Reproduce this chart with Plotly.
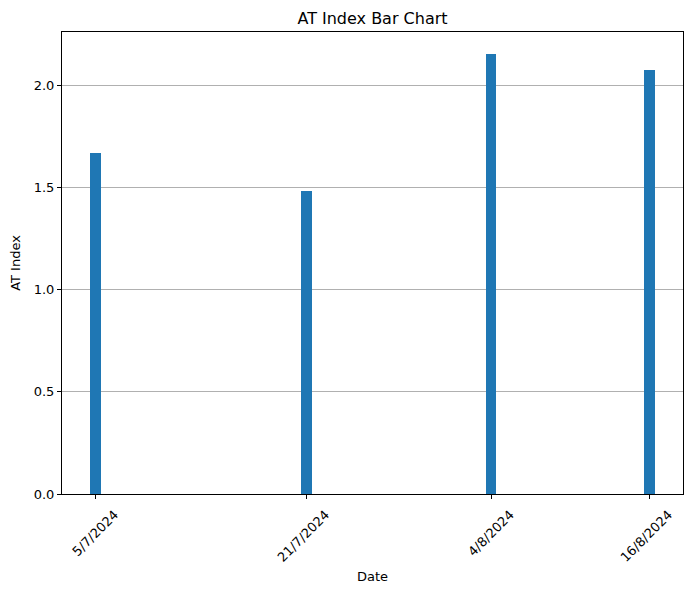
import plotly.graph_objects as go
from datetime import datetime, timedelta

dates = ["2024-07-05", "2024-07-21", "2024-08-04", "2024-08-16"]
date_labels = ["5/7/2024", "21/7/2024", "4/8/2024", "16/8/2024"]
at_index = [1.669, 1.483, 2.154, 2.075]

bar_days = 0.8
ms_day = 86400000
d0 = datetime.fromisoformat(dates[0]) - timedelta(days=bar_days / 2)
d1 = datetime.fromisoformat(dates[-1]) + timedelta(days=bar_days / 2)
span = d1 - d0
xr = [d0 - span * 0.05, d1 + span * 0.05]
ymax = max(at_index) * 1.05

fig = go.Figure(go.Bar(x=dates, y=at_index, width=bar_days * ms_day,
                       marker=dict(color="#1f77b4", line=dict(width=0))))

font = dict(family="DejaVu Sans", size=13, color="black")
fig.update_layout(
    width=691, height=593,
    margin=dict(l=62, r=8, t=32, b=99, autoexpand=False),
    paper_bgcolor="white", plot_bgcolor="white",
    font=font,
    title=dict(text="AT Index Bar Chart", x=0.5, xref="paper", y=1 - 18 / 593, yanchor="middle",
               font=dict(family="DejaVu Sans", size=16, color="black")),
    showlegend=False,
    bargap=0,
)
fig.update_xaxes(
    type="date", range=xr, tickmode="array", tickvals=dates, ticktext=date_labels,
    tickangle=-45, ticks="outside", ticklen=4, tickcolor="black",
    showline=True, linecolor="black", linewidth=1, mirror=True,
    showgrid=False, zeroline=False, automargin=False,
    ticklabelshift=19, ticklabelstandoff=3,
    title=dict(text="Date", font=font, standoff=7),
)
fig.update_yaxes(
    range=[0, ymax], tickvals=[0, 0.5, 1.0, 1.5, 2.0], ticktext=["0.0", "0.5", "1.0", "1.5", "2.0"],
    ticks="outside", ticklen=4, tickcolor="black",
    showline=True, linecolor="black", linewidth=1, mirror=True, automargin=False,
    showgrid=True, gridcolor="#b0b0b0", gridwidth=1, zeroline=False,
    title=dict(text="AT Index", font=font, standoff=10),
)
fig.write_html("out.html", config={"displayModeBar": False},
               post_script="document.body.style.margin='0';")
